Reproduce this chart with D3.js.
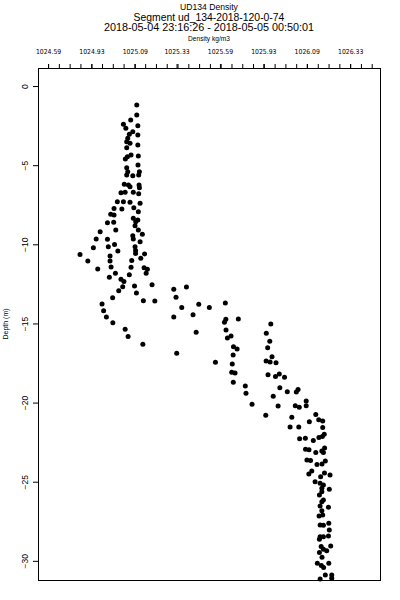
<!DOCTYPE html>
<html>
<head>
<meta charset="utf-8">
<script src="https://cdn.jsdelivr.net/npm/d3@7"></script>
<style>
  body { margin: 0; background: #fff; }
  text { font-family: "Liberation Sans", Arial, sans-serif; fill: #000; }
</style>
</head>
<body>
<div id="chart"></div>
<script>
const WIDTH = 400;
const HEIGHT = 600;
const FRAME = { left: 38, right: 380, top: 68, bottom: 580 };

const TITLE_LINES = ["UD134 Density", "Segment ud_134-2018-120-0-74", "2018-05-04 23:16:26 - 2018-05-05 00:50:01"];
const X_TITLE = "Density kg/m3";
const Y_TITLE = "Depth (m)";

// top axis: tick values and the labels as printed on the chart
const xTickValues = [1024.59, 1024.84, 1025.09, 1025.33, 1025.58, 1025.83, 1026.08, 1026.33];
const xTickLabels = ["1024.59", "1024.93", "1025.09", "1025.33", "1025.59", "1025.93", "1026.09", "1026.33"];
const yTickValues = [0, -5, -10, -15, -20, -25, -30];

const density = [
  1025.101, 1025.101, 1025.066, 1025.024, 1025.038, 1025.107, 1025.078, 1025.058, 1025.107, 1025.049,
  1025.043, 1025.062, 1025.107, 1025.043, 1025.068, 1025.047, 1025.035, 1025.110, 1025.108, 1025.043,
  1025.049, 1025.043, 1025.078, 1025.116, 1025.112, 1025.029, 1025.053, 1025.062, 1025.114, 1025.116,
  1025.112, 1025.010, 1025.034, 1025.081, 1024.989, 1025.024, 1025.062, 1025.120, 1024.970, 1025.015,
  1025.084, 1025.110, 1024.951, 1024.970, 1025.081, 1025.095, 1025.107, 1024.932, 1024.968, 1025.091,
  1024.890, 1024.980, 1025.110, 1025.078, 1025.133, 1024.867, 1024.932, 1025.081, 1025.120, 1024.851,
  1024.937, 1025.091, 1024.973, 1024.992, 1025.094, 1025.146, 1024.774, 1024.819, 1024.876, 1024.947,
  1024.947, 1024.953, 1025.094, 1025.124, 1025.072, 1025.068, 1025.143, 1025.162, 1025.155, 1024.978,
  1024.943, 1025.058, 1025.010, 1025.027, 1025.020, 1024.997, 1025.088, 1025.189, 1025.099, 1024.962,
  1024.901, 1024.910, 1024.926, 1024.963, 1025.034, 1025.051, 1025.139, 1025.205, 1025.136, 1025.314,
  1025.387, 1025.327, 1025.360, 1025.314, 1025.458, 1025.519, 1025.425, 1025.443, 1025.331, 1025.554,
  1025.611, 1025.614, 1025.606, 1025.686, 1025.615, 1025.644, 1025.623, 1025.658, 1025.679, 1025.656,
  1025.651, 1025.648, 1025.667, 1025.657, 1025.726, 1025.730, 1025.765, 1025.844, 1025.873, 1025.847,
  1025.867, 1025.855, 1025.880, 1025.846, 1025.869, 1025.903, 1025.857, 1025.900, 1025.922, 1025.952,
  1025.925, 1025.968, 1026.020, 1026.030, 1025.887, 1025.915, 1026.014, 1026.037, 1026.077, 1026.077,
  1025.994, 1026.132, 1026.149, 1026.172, 1026.095, 1026.172, 1025.984, 1026.034, 1026.181, 1026.170,
  1026.150, 1026.039, 1026.072, 1026.118, 1026.183, 1026.167, 1026.176, 1026.073, 1026.093, 1026.132,
  1026.081, 1026.102, 1026.187, 1026.139, 1026.168, 1026.109, 1026.092, 1026.182, 1026.214, 1026.160,
  1026.128, 1026.157, 1026.176, 1026.167, 1026.210, 1026.167, 1026.153, 1026.167, 1026.176, 1026.157,
  1026.205, 1026.167, 1026.172, 1026.151, 1026.157, 1026.176, 1026.207, 1026.210, 1026.157, 1026.176,
  1026.153, 1026.205, 1026.163, 1026.176, 1026.218, 1026.153, 1026.168, 1026.195, 1026.141, 1026.164,
  1026.207, 1026.177, 1026.157, 1026.187, 1026.224, 1026.224
];

const depth = [
  -1.20, -1.83, -2.15, -2.42, -2.67, -2.51, -2.89, -3.05, -3.10, -3.30,
  -3.52, -3.62, -3.73, -3.90, -4.36, -4.47, -4.61, -4.42, -4.99, -5.16,
  -5.41, -5.62, -5.67, -5.41, -5.62, -6.21, -6.25, -6.36, -6.25, -6.42,
  -6.80, -6.74, -6.71, -6.71, -7.31, -7.31, -7.35, -7.41, -7.73, -7.77,
  -7.69, -7.94, -8.10, -8.15, -8.36, -8.57, -8.46, -8.64, -8.61, -8.82,
  -9.20, -9.10, -9.10, -9.46, -9.37, -9.66, -9.68, -9.66, -9.84, -10.21,
  -10.15, -10.15, -10.01, -10.42, -10.39, -10.61, -10.64, -11.05, -11.56, -10.74,
  -11.05, -11.43, -10.58, -10.88, -11.02, -11.45, -11.48, -11.58, -11.83, -11.83,
  -12.08, -11.92, -12.21, -12.35, -12.68, -12.93, -12.63, -12.55, -13.08, -13.37,
  -13.77, -14.19, -14.59, -14.95, -15.37, -15.82, -13.56, -13.58, -16.32, -12.84,
  -12.70, -13.35, -14.00, -14.59, -13.79, -14.00, -14.45, -15.56, -16.89, -17.45,
  -13.71, -14.74, -14.93, -14.72, -15.41, -15.79, -15.92, -16.47, -16.61, -16.99,
  -17.56, -18.09, -18.13, -18.72, -18.95, -19.41, -20.11, -20.80, -15.03, -15.62,
  -16.13, -16.53, -17.10, -17.37, -17.43, -17.48, -18.24, -18.35, -18.19, -18.40,
  -19.06, -19.32, -19.33, -19.18, -19.60, -20.21, -20.20, -20.29, -19.90, -20.20,
  -20.93, -20.76, -21.08, -21.16, -21.21, -21.57, -21.55, -21.55, -22.00, -22.15,
  -22.20, -22.28, -22.25, -22.39, -22.87, -23.06, -23.16, -22.95, -22.98, -23.16,
  -23.63, -23.66, -23.69, -23.92, -23.88, -24.32, -24.51, -24.45, -24.57, -24.69,
  -25.00, -25.10, -25.20, -25.41, -25.48, -25.63, -25.84, -26.26, -26.15, -26.53,
  -26.61, -26.83, -27.10, -27.16, -27.73, -27.75, -27.62, -28.05, -28.47, -28.47,
  -28.64, -28.43, -29.10, -29.27, -29.06, -29.48, -29.77, -29.36, -30.15, -30.30,
  -30.15, -30.42, -31.14, -30.89, -30.89, -31.10
];

const points = density.map((d, i) => ({ density: d, depth: depth[i] }));

const x = d3.scaleLinear()
  .domain([1024.532, 1026.502])
  .range([FRAME.left, FRAME.right]);

const y = d3.scaleLinear()
  .domain([-31.21, 1.14])
  .range([FRAME.bottom, FRAME.top]);

const svg = d3.select("#chart")
  .append("svg")
  .attr("width", WIDTH)
  .attr("height", HEIGHT);

// titles
const midX = (FRAME.left + FRAME.right) / 2;
svg.append("text")
  .attr("x", midX).attr("y", 9.5)
  .attr("text-anchor", "middle")
  .style("font-size", "8.6px")
  .text(TITLE_LINES[0]);
svg.append("text")
  .attr("x", midX).attr("y", 20.5)
  .attr("text-anchor", "middle")
  .style("font-size", "10.4px")
  .text(TITLE_LINES[1]);
svg.append("text")
  .attr("x", midX).attr("y", 31)
  .attr("text-anchor", "middle")
  .style("font-size", "10.8px")
  .text(TITLE_LINES[2]);
svg.append("text")
  .attr("x", midX).attr("y", 40.5)
  .attr("text-anchor", "middle")
  .style("font-size", "6.6px")
  .text(X_TITLE);

// minor ticks on top, 4 per labelled step
const step = (xTickValues[xTickValues.length - 1] - xTickValues[0]) / (xTickValues.length - 1) / 4;
const minorTicks = d3.range(31).map(i => xTickValues[0] + i * step);

svg.append("g")
  .attr("transform", `translate(0, ${FRAME.top})`)
  .call(d3.axisTop(x).tickValues(minorTicks).tickFormat("").tickSize(4))
  .call(g => g.select(".domain").remove());

svg.append("g")
  .attr("transform", `translate(0, ${FRAME.top})`)
  .call(d3.axisTop(x).tickValues(xTickValues).tickFormat((d, i) => xTickLabels[i]).tickSize(4).tickPadding(10.5))
  .call(g => g.select(".domain").remove())
  .call(g => g.selectAll("text")
    .style("font-family", "'Liberation Sans Narrow', 'DejaVu Sans Condensed', sans-serif")
    .style("font-size", "6.8px"));

// left axis with rotated labels
svg.append("g")
  .attr("transform", `translate(${FRAME.left}, 0)`)
  .call(d3.axisLeft(y).tickValues(yTickValues).tickSize(5))
  .call(g => g.select(".domain").remove())
  .call(g => g.selectAll("text")
    .attr("transform", "rotate(-90)")
    .attr("x", 0)
    .attr("y", -10.5)
    .attr("dy", 0)
    .attr("text-anchor", "middle")
    .style("font-size", "8.5px"));

svg.append("text")
  .attr("transform", `translate(7.5, ${(FRAME.top + FRAME.bottom) / 2}) rotate(-90)`)
  .attr("text-anchor", "middle")
  .style("font-size", "7px")
  .text(Y_TITLE);

// points
svg.append("g")
  .selectAll("circle")
  .data(points)
  .enter()
  .append("circle")
  .attr("cx", d => x(d.density))
  .attr("cy", d => y(d.depth))
  .attr("r", 2.5)
  .style("fill", "#000");

// frame
svg.append("rect")
  .attr("x", FRAME.left + 0.5)
  .attr("y", FRAME.top + 0.5)
  .attr("width", FRAME.right - FRAME.left)
  .attr("height", FRAME.bottom - FRAME.top)
  .style("fill", "none")
  .style("stroke", "#000")
  .style("stroke-width", 1);
</script>
</body>
</html>
